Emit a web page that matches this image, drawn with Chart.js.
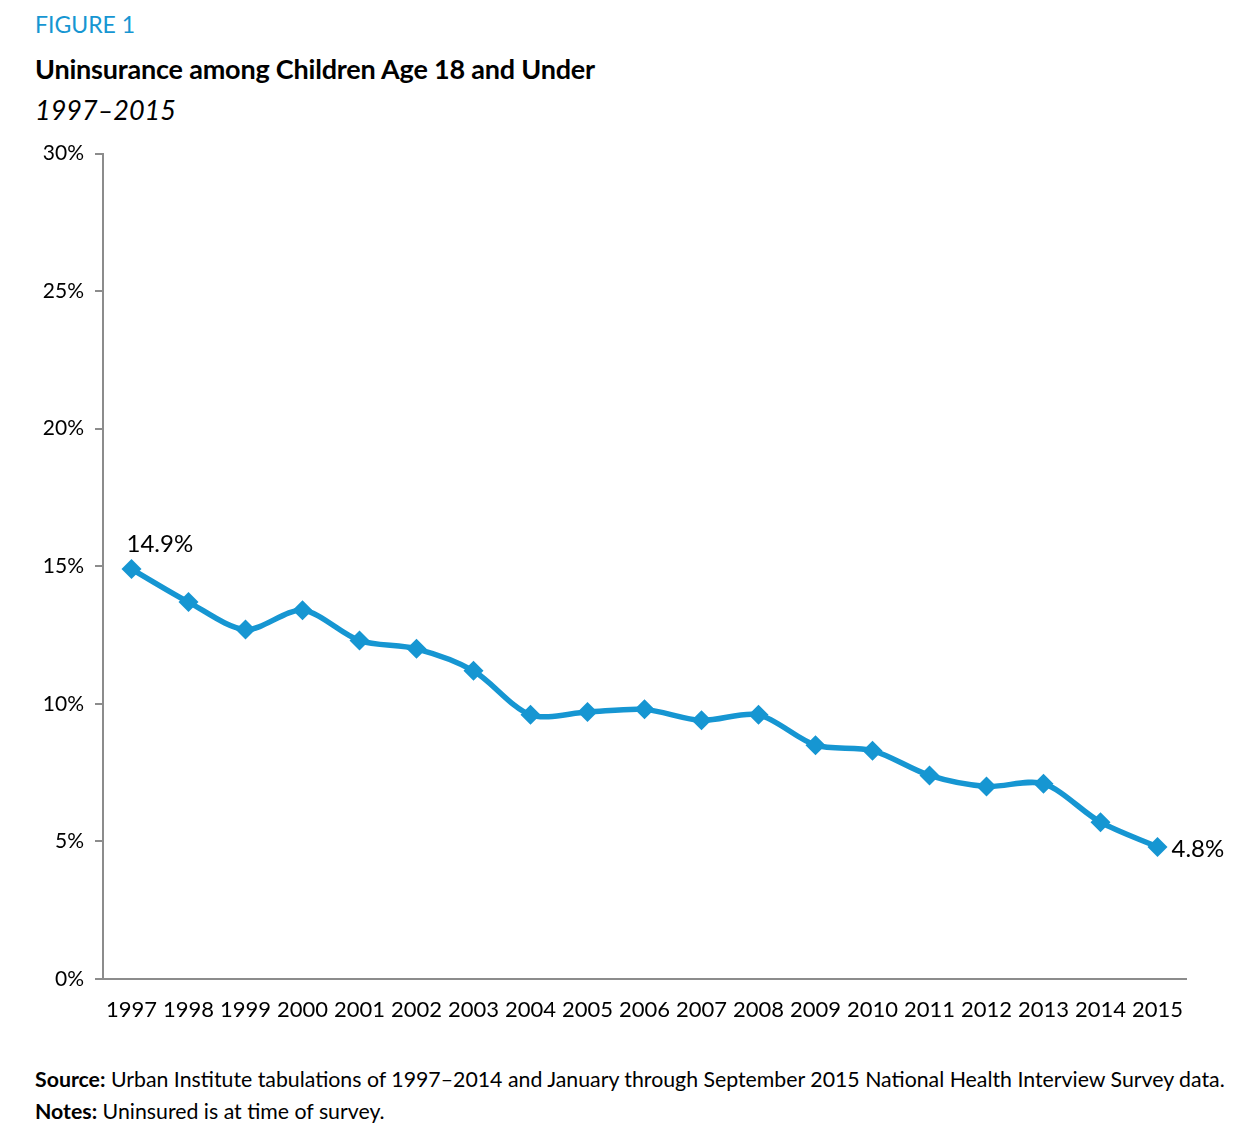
<!DOCTYPE html>
<html>
<head>
<meta charset="utf-8">
<script src="https://cdn.jsdelivr.net/npm/chart.js@4.4.1/dist/chart.umd.min.js"></script>
<style>
  html, body { margin: 0; padding: 0; background: #fff; }
  body { width: 1256px; height: 1148px; position: relative; font-family: Lato, sans-serif; color: #000; }
  .fig { position: absolute; left: 35px; top: 10px; font-size: 23px; color: #1696d2; }
  .title { position: absolute; left: 35px; top: 52px; font-size: 27px; font-weight: bold; letter-spacing: -0.2px; }
  .sub { position: absolute; left: 35px; top: 93px; font-size: 27px; font-style: italic; }
  .chart-box { position: absolute; left: 0; top: 130px; width: 1256px; height: 910px; }
  .note { position: absolute; left: 35px; font-size: 21.3px; }
</style>
</head>
<body>
<div class="fig">FIGURE 1</div>
<div class="title">Uninsurance among Children Age 18 and Under</div>
<div class="sub">1997–2015</div>
<div class="chart-box"><canvas id="chart"></canvas></div>
<div class="note" style="top:1066px"><b>Source:</b> Urban Institute tabulations of 1997–2014 and January through September 2015 National Health Interview Survey data.</div>
<div class="note" style="top:1098px"><b>Notes:</b> Uninsured is at time of survey.</div>
<script>
const BLUE = '#1696d2';
const AXIS = '#8c8c8c';

const years = ['1997','1998','1999','2000','2001','2002','2003','2004','2005','2006',
               '2007','2008','2009','2010','2011','2012','2013','2014','2015'];
const uninsured = [14.9, 13.7, 12.7, 13.4, 12.3, 12.0, 11.2, 9.6, 9.7, 9.8,
                   9.4, 9.6, 8.5, 8.3, 7.4, 7.0, 7.1, 5.7, 4.8];
const yTicks = [0, 5, 10, 15, 20, 25, 30];

// labels on first and last point only
const endLabels = {
  id: 'endLabels',
  afterDatasetsDraw(chart) {
    const ctx = chart.ctx;
    const pts = chart.getDatasetMeta(0).data;
    const first = pts[0], last = pts[pts.length - 1];
    ctx.save();
    ctx.font = '24px Lato';
    ctx.fillStyle = '#000';
    ctx.textBaseline = 'middle';
    ctx.textAlign = 'left';
    ctx.fillText(uninsured[0].toFixed(1) + '%', first.x - 5, first.y - 25);
    ctx.fillText(uninsured[uninsured.length - 1].toFixed(1) + '%', last.x + 14, last.y + 2);
    ctx.restore();
  }
};

new Chart(document.getElementById('chart'), {
  type: 'line',
  data: {
    labels: years,
    datasets: [{
      label: 'Uninsured',
      data: uninsured,
      borderColor: BLUE,
      backgroundColor: BLUE,
      borderWidth: 5.5,
      pointStyle: 'rectRot',
      pointRadius: 10,
      pointBackgroundColor: BLUE,
      pointBorderWidth: 0,
      tension: 0.3,
      fill: false,
    }]
  },
  options: {
    responsive: true,
    maintainAspectRatio: false,
    animation: false,
    layout: { padding: { top: 23, right: 70, left: 0, bottom: 0 } },
    plugins: {
      legend: { display: false },
      tooltip: { enabled: false },
    },
    scales: {
      x: {
        offset: true,
        grid: { display: false },
        border: { color: AXIS, width: 2 },
        ticks: { color: '#000', font: { family: 'Lato', size: 22 }, padding: 10, maxRotation: 0, autoSkip: false },
        afterFit: s => { s.height = 61; },
      },
      y: {
        min: 0,
        max: 30,
        afterBuildTicks: s => { s.ticks = yTicks.map(v => ({ value: v })); },
        grid: { drawOnChartArea: false, tickLength: 8, color: AXIS, lineWidth: 2 },
        border: { color: AXIS, width: 2 },
        ticks: { color: '#000', font: { family: 'Lato', size: 21 }, padding: 11, callback: v => v + '%' },
        afterFit: s => { s.width = 103; },
      }
    }
  },
  plugins: [endLabels]
});
</script>
</body>
</html>
